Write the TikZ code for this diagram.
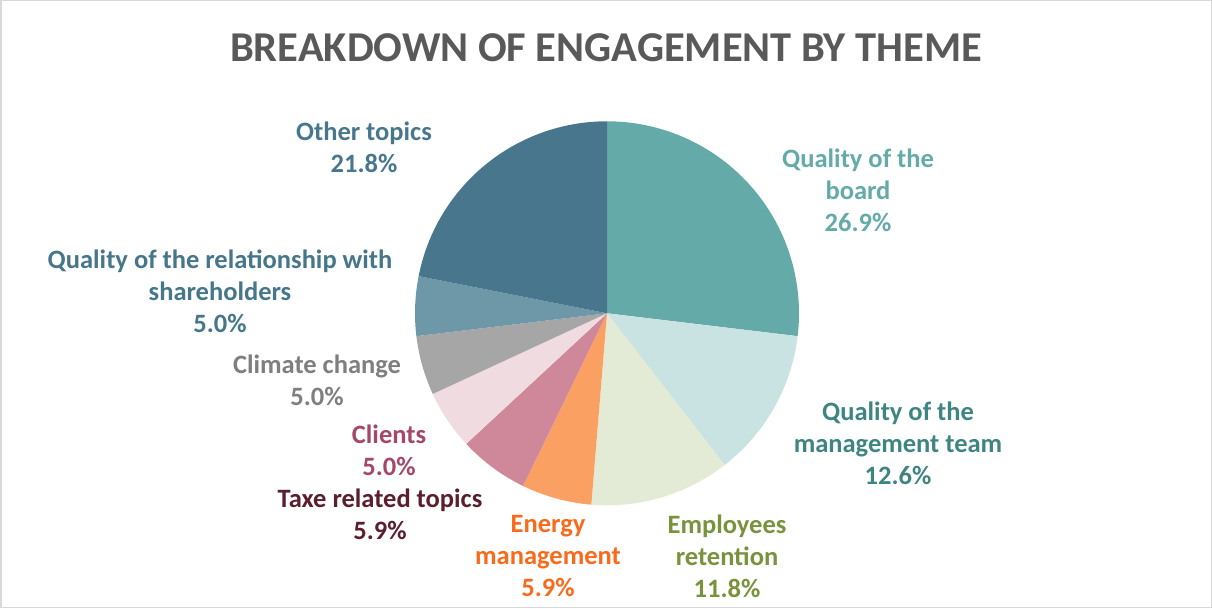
\documentclass[tikz,border=0pt]{standalone}
\usepackage{fontspec}
\setmainfont{Carlito}
\definecolor{cBoard}{RGB}{99,170,169}
\definecolor{cMgmt}{RGB}{201,227,227}
\definecolor{cEmpl}{RGB}{227,234,214}
\definecolor{cEnergy}{RGB}{251,160,99}
\definecolor{cTaxe}{RGB}{207,136,153}
\definecolor{cClients}{RGB}{240,219,224}
\definecolor{cClimate}{RGB}{166,166,166}
\definecolor{cRelation}{RGB}{110,152,168}
\definecolor{cOther}{RGB}{72,119,141}
\definecolor{tTitle}{RGB}{89,89,89}
\definecolor{tMgmt}{RGB}{62,133,130}
\definecolor{tEmpl}{RGB}{119,147,60}
\definecolor{tEnergy}{RGB}{249,106,27}
\definecolor{tTaxe}{RGB}{90,30,45}
\definecolor{tClients}{RGB}{165,71,106}
\definecolor{tClimate}{RGB}{127,127,127}
\definecolor{tRelation}{RGB}{69,118,138}
\definecolor{frameGray}{RGB}{217,217,217}

\begin{document}
\begin{tikzpicture}
[
    x = 1pt, y = 1pt,
    title/.style = {font = \fontsize{42.5}{50}\selectfont\bfseries, text = tTitle},
    label/.style = {align = center, font = \fontsize{26.5}{32}\selectfont\bfseries}
]
\useasboundingbox (0,0) rectangle (1212,608);
\draw[frameGray, line width = 1.5pt] (0.75,0.75) rectangle (1211.25,607.25);

\node[title] (title) at (606,560.5) {BREAKDOWN OF ENGAGEMENT BY THEME};

% slices, clockwise from the top
\coordinate (pc) at (607,294.7);
\foreach \a/\b/\c in {90/-6.84/cBoard, -6.84/-52.2/cMgmt, -52.2/-94.68/cEmpl,
    -94.68/-115.92/cEnergy, -115.92/-137.16/cTaxe, -137.16/-155.16/cClients,
    -155.16/-173.16/cClimate, -173.16/-191.16/cRelation, -191.16/-270/cOther}
    \fill[\c] (pc) -- ++(\a:192) arc[start angle = \a, end angle = \b, radius = 192] -- cycle;

\node[label, text = cBoard] (board) at (858,418) {Quality of the\\board\\26.9\%};
\node[label, text = tMgmt] (mgmt) at (898,165) {Quality of the\\management team\\12.6\%};
\node[label, text = tEmpl] (empl) at (727,52) {Employees\\retention\\11.8\%};
\node[label, text = tEnergy] (energy) at (548,52) {Energy\\management\\5.9\%};
\node[label, text = tTaxe] (taxe) at (380,94) {Taxe related topics\\5.9\%};
\node[label, text = tClients] (clients) at (389,158) {Clients\\5.0\%};
\node[label, text = tClimate] (climate) at (317,228) {Climate change\\5.0\%};
\node[label, text = tRelation] (relation) at (220,317) {Quality of the relationship with\\shareholders\\5.0\%};
\node[label, text = cOther] (other) at (364,461) {Other topics\\21.8\%};
\end{tikzpicture}
\end{document}
